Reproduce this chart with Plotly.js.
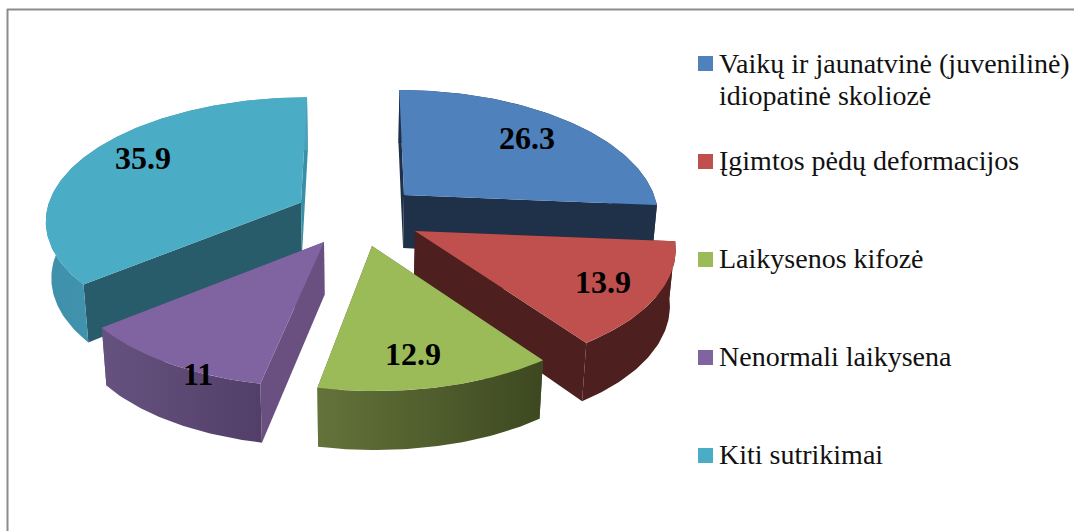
<!DOCTYPE html>
<html>
<head>
<meta charset="utf-8">
<script src="https://cdn.plot.ly/plotly-3.0.1.min.js"></script>
<style>html,body{margin:0;padding:0;background:#fff}#chart{width:1074px;height:531px}</style>
</head>
<body>
<div id="chart"></div>
<script>
// ---- data ----
const categories = [
  ["Vaikų ir jaunatvinė (juvenilinė)", "idiopatinė skoliozė"],
  ["Įgimtos pėdų deformacijos"],
  ["Laikysenos kifozė"],
  ["Nenormali laikysena"],
  ["Kiti sutrikimai"]
];
const values = [26.3, 13.9, 12.9, 11, 35.9];

// ---- style ----
const topColors   = ["#4f81bd", "#c0504d", "#9bbb59", "#8064a2", "#4bacc6"];
const startFace   = ["#1f3049", "#4d1f1e", "#4d5c2a", "#6a5080", "#285c6b"];
const endFace     = ["#1f3049", "#4d1f1e", "#4d5c2a", "#6a5080", "#3a8fa8"];
const wallLeft    = ["#1f3049", "#4d1f1e", "#64733a", "#66527f", "#3f90aa"];
const wallRight   = ["#1f3049", "#4d1f1e", "#3d4820", "#523f68", "#4ba0bb"];

// ---- layout of the exploded 3-D pie (pixel space of the axes) ----
const apexX = [404, 415, 372, 324, 301];
const apexY = [195, 231, 246, 242, 202.5];
const radiusX = [250, 258, 253, 254, 252];
const radiusY = [121.8, 124, 121.8, 121.8, 119];
const persp   = [0.16, 0.117, 0.16, 0.16, 0.131];
const vanishX = [370, 353, 353, 353, 353];
const labelX = [527, 603, 413, 198, 143];
const labelY = [138, 282, 354, 374, 158];
const drawOrder = [0, 4, 1, 2, 3];
const VX = 353, BOTTOM_SCALE = 0.982;
const legendX = 705.5, legendTextX = 716.5;
const legendY = [63.5, 161.5, 259.5, 357.5, 455.5];
const legendTextY = [63.5, 160.5, 258.5, 356.5, 454];
const legendLineGap = 32;

const rad = d => d * Math.PI / 180;
function topPoint(i, deg) {
  const c = Math.cos(rad(deg)), s = 1 / (1 + persp[i] * c);
  return [vanishX[i] + (apexX[i] - vanishX[i] + radiusX[i] * Math.sin(rad(deg))) * s, apexY[i] - radiusY[i] * c * s];
}
function downPoint(p, depth) {
  return [VX + (p[0] - VX) * BOTTOM_SCALE, p[1] + depth];
}
function rimDepth(deg) { return 53 + 6 * (1 - Math.cos(rad(deg))) / 2; }

function poly(points, opts) {
  return Object.assign({
    type: "scatter", mode: "lines", fill: "toself",
    x: points.map(p => p[0]), y: points.map(p => p[1]),
    line: {width: 0}, hoverinfo: "skip", showlegend: false
  }, opts);
}

const total = values.reduce((a, b) => a + b, 0);
const starts = [];
values.reduce((acc, v, i) => { starts[i] = acc; return acc + v; }, 0);

const traces = [];
drawOrder.forEach(i => {
  const a0 = starts[i] / total * 360, a1 = (starts[i] + values[i]) / total * 360;
  const apex = [apexX[i], apexY[i]], apexDown = downPoint(apex, 53);
  const arc = [], arcDown = [];
  for (let d = a0; d < a1; d += 1) arc.push(topPoint(i, d));
  arc.push(topPoint(i, a1));
  for (let d = a0; d < a1; d += 1) arcDown.push(downPoint(topPoint(i, d), rimDepth(d)));
  arcDown.push(downPoint(topPoint(i, a1), rimDepth(a1)));
  const first = arc[0], last = arc[arc.length - 1];
  const firstD = arcDown[0], lastD = arcDown[arcDown.length - 1];

  traces.push(poly([apex, first, firstD, apexDown, apex], {fillcolor: startFace[i]}));
  traces.push(poly([apex, last, lastD, apexDown, apex], {fillcolor: endFace[i]}));
  traces.push(poly(arc.concat(arcDown.slice().reverse(), [arc[0]]), {
    fillcolor: wallLeft[i],
    fillgradient: {type: "horizontal", colorscale: [[0, wallLeft[i]], [1, wallRight[i]]]}
  }));
  traces.push(poly([apex].concat(arc, [apex]), {fillcolor: topColors[i]}));
});

// legend swatches
traces.push({
  type: "scatter", mode: "markers", x: categories.map(() => legendX), y: legendY,
  marker: {symbol: "square", size: 15, color: topColors, line: {width: 0}},
  hoverinfo: "skip", showlegend: false
});

const annotations = [];
categories.forEach((lines, i) => lines.forEach((t, k) => annotations.push({
  x: legendTextX, y: legendTextY[i] + k * legendLineGap, xref: "x", yref: "y", text: t, showarrow: false,
  xanchor: "left", yanchor: "middle", align: "left",
  font: {family: "Liberation Serif", size: 28, color: "#111"}
})));
values.forEach((v, i) => annotations.push({
  x: labelX[i], y: labelY[i], xref: "x", yref: "y", text: String(v), showarrow: false,
  xanchor: "center", yanchor: "middle",
  font: {family: "Liberation Serif", size: 32, color: "#000", weight: 700}
}));

const layout = {
  width: 1074, height: 531, margin: {l: 0, r: 0, t: 0, b: 0},
  paper_bgcolor: "#fff", plot_bgcolor: "#fff", showlegend: false,
  xaxis: {range: [0, 1074], visible: false, fixedrange: true},
  yaxis: {range: [531, 0], visible: false, fixedrange: true},
  annotations: annotations,
  shapes: [
    {type: "line", xref: "x", yref: "y", x0: 7.5, x1: 7.5, y0: 9, y1: 531, line: {color: "#8c8c8c", width: 2}},
    {type: "line", xref: "x", yref: "y", x0: 7, x1: 1074, y0: 9.5, y1: 9.5, line: {color: "#8c8c8c", width: 2}}
  ]
};
Plotly.newPlot("chart", traces, layout, {displayModeBar: false, staticPlot: true});
</script>
</body>
</html>
